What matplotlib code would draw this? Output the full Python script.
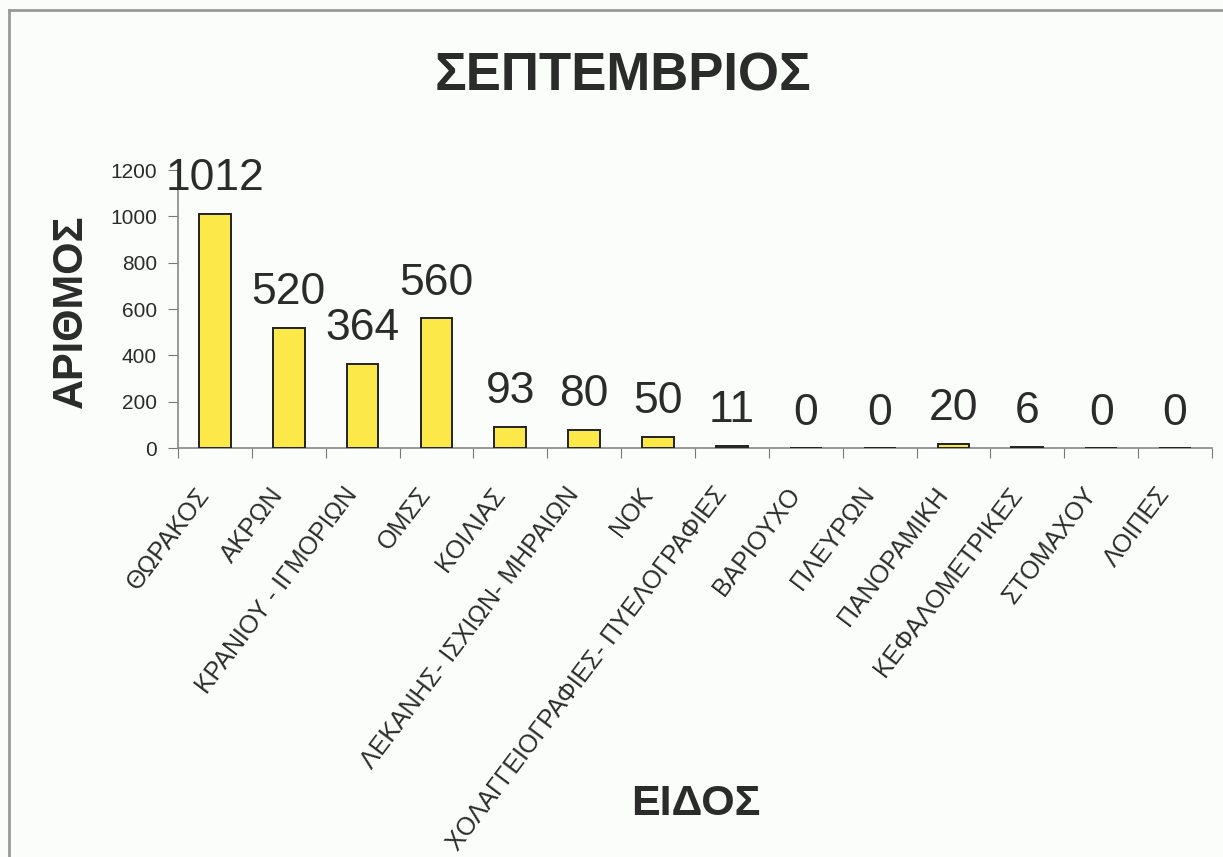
import numpy as np
import matplotlib
matplotlib.use("Agg")
import matplotlib.pyplot as plt
from matplotlib.lines import Line2D

categories = ["ΘΩΡΑΚΟΣ", "ΑΚΡΩΝ", "ΚΡΑΝΙΟΥ - ΙΓΜΟΡΙΩΝ", "ΟΜΣΣ", "ΚΟΙΛΙΑΣ",
              "ΛΕΚΑΝΗΣ- ΙΣΧΙΩΝ- ΜΗΡΑΙΩΝ", "ΝΟΚ", "ΧΟΛΑΓΓΕΙΟΓΡΑΦΙΕΣ- ΠΥΕΛΟΓΡΑΦΙΕΣ",
              "ΒΑΡΙΟΥΧΟ", "ΠΛΕΥΡΩΝ", "ΠΑΝΟΡΑΜΙΚΗ", "ΚΕΦΑΛΟΜΕΤΡΙΚΕΣ", "ΣΤΟΜΑΧΟΥ", "ΛΟΙΠΕΣ"]
values = [1012, 520, 364, 560, 93, 80, 50, 11, 0, 0, 20, 6, 0, 0]
yticks = [0, 200, 400, 600, 800, 1000, 1200]

plt.rcParams['font.family'] = ['Liberation Sans', 'DejaVu Sans']
txt = '#2b2b2b'

fig = plt.figure(figsize=(12.23, 8.57), dpi=100)
fig.patch.set_facecolor('#fbfdfb')
ax = fig.add_axes([0.1455, 0.477, 0.8455, 0.3246])
ax.set_facecolor('none')

x = np.arange(len(values))
ax.bar(x, values, width=0.43, color='#fde84a', edgecolor='#222222', linewidth=1.4, zorder=3)
for xi, v in zip(x, values):
    ax.annotate(str(v), (xi, v), xytext=(0, 17), textcoords='offset points',
                ha='center', va='baseline', fontsize=32, color=txt)

ax.set_xlim(-0.5, len(values) - 0.5)
ax.set_ylim(0, 1200)
ax.set_yticks(yticks)
ax.set_yticklabels([str(t) for t in yticks], fontsize=15, color=txt)
ax.set_xticks(np.arange(len(values) + 1) - 0.5)
ax.set_xticklabels([''] * (len(values) + 1))

# category labels, rotated, sitting a bit left of each bar
for xi, name in zip(x, categories):
    ax.annotate(name, (xi, 0), xycoords=('data', 'axes fraction'),
                xytext=(-14, -25), textcoords='offset points',
                rotation=53, rotation_mode='anchor', ha='right', va='top',
                fontsize=18, color=txt, annotation_clip=False)

ax.tick_params(axis='x', length=7, direction='out', color='#777777')
ax.tick_params(axis='y', length=7, direction='out', color='#777777', pad=8)
for s in ['top', 'right']:
    ax.spines[s].set_visible(False)
for s in ['left', 'bottom']:
    ax.spines[s].set_color('#888888')
    ax.spines[s].set_linewidth(1.2)

fig.text(0.509, 0.911, "ΣΕΠΤΕΜΒΡΙΟΣ", ha='center', va='center', fontsize=38,
         fontweight='bold', color=txt)
fig.text(0.058, 0.637, "ΑΡΙΘΜΟΣ", ha='center', va='center', rotation=90,
         fontsize=30, fontweight='bold', color=txt)
fig.text(0.569, 0.062, "ΕΙΔΟΣ", ha='center', va='center', fontsize=31,
         fontweight='bold', color=txt)

# scanned frame on top and left edges
fig.add_artist(Line2D([0.0075, 1.0], [0.9885, 0.9885], transform=fig.transFigure,
                      color='#999999', linewidth=2))
fig.add_artist(Line2D([0.0075, 0.0075], [0.0, 0.9885], transform=fig.transFigure,
                      color='#999999', linewidth=2))

fig.savefig("out.png", dpi=100, facecolor=fig.get_facecolor())
